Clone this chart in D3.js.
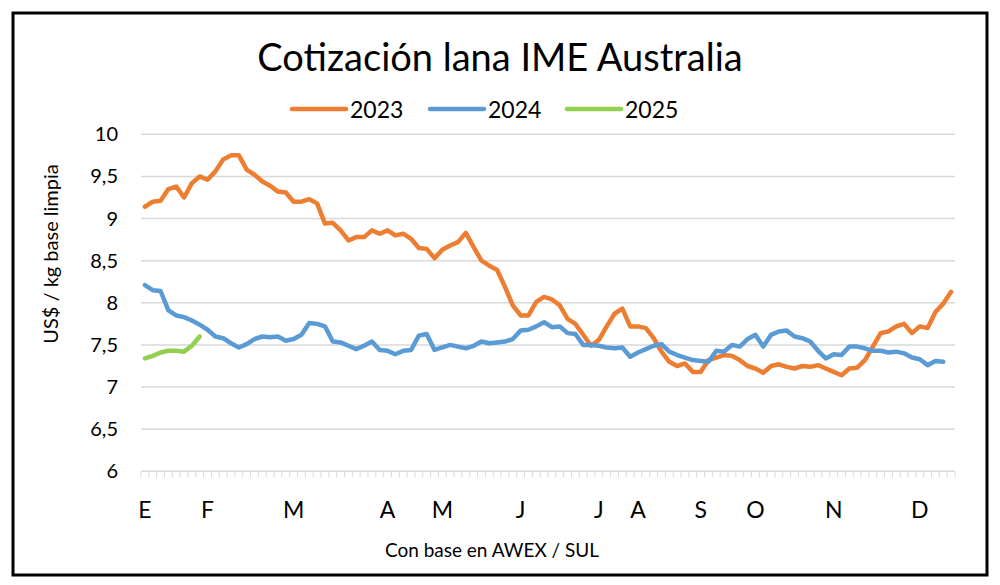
<!DOCTYPE html>
<html>
<head>
    <meta charset="utf-8" />
    <title>Cotización lana IME Australia</title>
    <script src="https://d3js.org/d3.v7.min.js"></script>
    <style>
    body { margin: 0; background: white; }
    text { font-family: Lato, "Open Sans", sans-serif; fill: #000; }
    </style>
</head>
<body>
<div id="chart"></div>
<script>
// valores US$/kg base limpia, una entrada por remate
var s2023 = [9.14, 9.20, 9.21, 9.35, 9.38, 9.25, 9.42, 9.50, 9.46, 9.56,
    9.70, 9.75, 9.75, 9.58, 9.52, 9.44, 9.39, 9.32, 9.31, 9.20,
    9.20, 9.23, 9.18, 8.94, 8.95, 8.86, 8.74, 8.78, 8.78, 8.86,
    8.82, 8.86, 8.80, 8.82, 8.76, 8.65, 8.64, 8.53, 8.63, 8.68,
    8.72, 8.83, 8.66, 8.50, 8.44, 8.39, 8.19, 7.97, 7.85, 7.85,
    8.01, 8.07, 8.04, 7.97, 7.81, 7.75, 7.62, 7.49, 7.56, 7.72,
    7.87, 7.93, 7.72, 7.72, 7.70, 7.58, 7.42, 7.30, 7.25, 7.28,
    7.18, 7.18, 7.32, 7.35, 7.38, 7.37, 7.32, 7.25, 7.22, 7.17,
    7.25, 7.27, 7.24, 7.22, 7.25, 7.24, 7.26, 7.22, 7.18, 7.14,
    7.22, 7.23, 7.32, 7.48, 7.64, 7.66, 7.72, 7.75, 7.64, 7.72,
    7.70, 7.89, 7.99, 8.13];

var s2024 = [8.21, 8.15, 8.14, 7.91, 7.85, 7.83, 7.79, 7.74, 7.68, 7.60,
    7.58, 7.52, 7.47, 7.51, 7.57, 7.60, 7.59, 7.60, 7.55, 7.57,
    7.62, 7.76, 7.75, 7.72, 7.54, 7.53, 7.49, 7.45, 7.49, 7.54,
    7.44, 7.43, 7.39, 7.43, 7.44, 7.61, 7.63, 7.44, 7.47, 7.50,
    7.48, 7.46, 7.49, 7.54, 7.52, 7.53, 7.54, 7.57, 7.67, 7.68,
    7.72, 7.77, 7.71, 7.72, 7.64, 7.63, 7.50, 7.50, 7.49, 7.47,
    7.46, 7.47, 7.36, 7.41, 7.45, 7.49, 7.51, 7.42, 7.38, 7.35,
    7.32, 7.31, 7.30, 7.43, 7.42, 7.50, 7.48, 7.57, 7.62, 7.48,
    7.62, 7.66, 7.67, 7.60, 7.58, 7.54, 7.43, 7.34, 7.39, 7.38,
    7.48, 7.48, 7.46, 7.43, 7.43, 7.41, 7.42, 7.40, 7.35, 7.33,
    7.26, 7.31, 7.30];

var s2025 = [7.34, 7.37, 7.41, 7.43, 7.43, 7.42, 7.49, 7.60];

var nCats = 104;
var monthLabels = ["E", "F", "M", "A", "M", "J", "J", "A", "S", "O", "N", "D"];
var monthStart = [0, 8, 19, 31, 38, 48, 58, 63, 71, 78, 88, 99];
var yTicks = [6, 6.5, 7, 7.5, 8, 8.5, 9, 9.5, 10];

var series = [
    {name: "2023", values: s2023, color: "#ED7D31"},
    {name: "2024", values: s2024, color: "#5B9BD5"},
    {name: "2025", values: s2025, color: "#92D050"}
];

var width = 1000, height = 585;
var plot = {left: 141, right: 955, top: 134.3, bottom: 471.3};

var svg = d3.select("#chart").append("svg")
    .attr("width", width)
    .attr("height", height);

svg.append("rect")
    .attr("x", 13).attr("y", 13)
    .attr("width", 974).attr("height", 562)
    .style("fill", "white")
    .style("stroke", "black")
    .style("stroke-width", 3);

var x = d3.scaleBand()
    .domain(d3.range(nCats))
    .range([plot.left, plot.right]);
var half = x.bandwidth() / 2;

var y = d3.scaleLinear()
    .domain([6, 10])
    .range([plot.bottom, plot.top]);

// rejilla horizontal
svg.selectAll(".grid")
    .data(yTicks)
    .enter().append("line")
    .attr("class", "grid")
    .attr("x1", plot.left).attr("x2", plot.right)
    .attr("y1", function(d) { return y(d); })
    .attr("y2", function(d) { return y(d); })
    .style("stroke", "#d9d9d9")
    .style("stroke-width", 1.5);

// marcas del eje x entre categorias
var tickPos = d3.range(nCats).map(function(d) { return x(d); });
tickPos.push(x.range()[1]);
svg.selectAll(".xtick")
    .data(tickPos)
    .enter().append("line")
    .attr("class", "xtick")
    .attr("x1", function(d) { return d; })
    .attr("x2", function(d) { return d; })
    .attr("y1", plot.bottom)
    .attr("y2", plot.bottom + 6)
    .style("stroke", "#d9d9d9")
    .style("stroke-width", 1);

svg.selectAll(".ylab")
    .data(yTicks)
    .enter().append("text")
    .attr("class", "ylab")
    .attr("x", 118)
    .attr("y", function(d) { return y(d) + 7; })
    .attr("text-anchor", "end")
    .style("font-size", "20px")
    .text(function(d) { return String(d).replace(".", ","); });

svg.selectAll(".xlab")
    .data(monthStart)
    .enter().append("text")
    .attr("class", "xlab")
    .attr("x", function(d) { return x(d) + half; })
    .attr("y", 518)
    .attr("text-anchor", "middle")
    .style("font-size", "23px")
    .text(function(d, i) { return monthLabels[i]; });

var line = d3.line()
    .x(function(d, i) { return x(i) + half; })
    .y(function(d) { return y(d); });

svg.selectAll(".serie")
    .data(series)
    .enter().append("path")
    .attr("class", "serie")
    .attr("d", function(d) { return line(d.values); })
    .style("fill", "none")
    .style("stroke", function(d) { return d.color; })
    .style("stroke-width", 4.5)
    .style("stroke-linejoin", "round")
    .style("stroke-linecap", "round");

// titulo y leyenda
svg.append("text")
    .attr("x", 500).attr("y", 71)
    .attr("text-anchor", "middle")
    .style("font-size", "38px")
    .text("Cotización lana IME Australia");

var legX = [292, 430, 567];
var leg = svg.selectAll(".leg")
    .data(series)
    .enter().append("g")
    .attr("class", "leg")
    .attr("transform", function(d, i) { return "translate(" + legX[i] + ",109)"; });
leg.append("line")
    .attr("x1", 0).attr("x2", 54)
    .style("stroke", function(d) { return d.color; })
    .style("stroke-width", 4.5)
    .style("stroke-linecap", "round");
leg.append("text")
    .attr("x", 58).attr("y", 9)
    .style("font-size", "23px")
    .text(function(d) { return d.name; });

svg.append("text")
    .attr("transform", "translate(58,254) rotate(-90)")
    .attr("text-anchor", "middle")
    .style("font-size", "20px")
    .text("US$ / kg base limpia");

svg.append("text")
    .attr("x", 492).attr("y", 557)
    .attr("text-anchor", "middle")
    .style("font-size", "19px")
    .text("Con base en AWEX / SUL");
</script>
</body>
</html>
